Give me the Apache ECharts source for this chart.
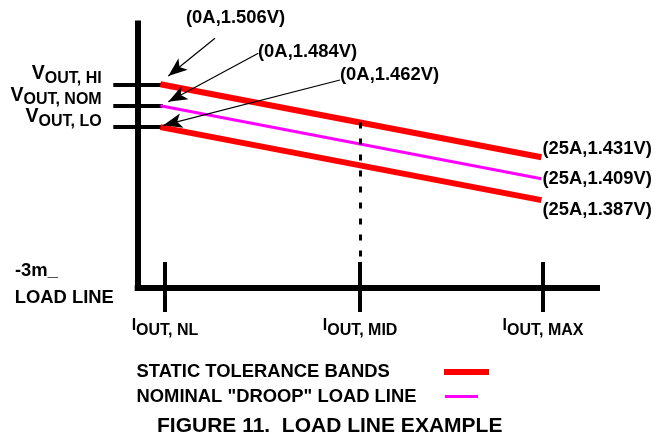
<!DOCTYPE html>
<html>
<head>
<meta charset="utf-8">
<script src="https://cdn.jsdelivr.net/npm/echarts@6/dist/echarts.min.js"></script>
<style>html,body{margin:0;padding:0;background:#fff}#c{width:656px;height:438px}</style>
</head>
<body>
<div id="c"></div>
<script>
// ---- data ----
const currentA = [0, 25];                 // load current (A)
const staticHigh = [1.506, 1.431];        // V_OUT,HI band (V)
const nominal = [1.484, 1.409];           // nominal droop line (V)
const staticLow = [1.462, 1.387];         // V_OUT,LO band (V)
const xTickValues = [0.3, 13.1, 25.1];
const xTickNames = ['NL', 'MID', 'MAX'];
const yTickValues = [1.506, 1.484, 1.462];
const yTickNames = ['HI', 'NOM', 'LO'];
const midCurrent = 13.1;
const legendNames = ['STATIC TOLERANCE BANDS', 'NOMINAL "DROOP" LOAD LINE'];
const titleText = 'FIGURE 11.  LOAD LINE EXAMPLE';
const sideNote = ['-3m_', 'LOAD LINE'];

// ---- chart ----
const FONT = '"Liberation Sans", Arial, Helvetica, sans-serif';
const X_MIN = -1.4895, X_MAX = 28.642;
const Y_MIN = 1.29675, Y_MAX = 1.56842;
const RED = '#ff0000', MAG = '#ff00ff';

const pairs = ys => currentA.map((x, i) => [x, ys[i]]);
const fmt = (a, v) => '(' + a + 'A,' + v.toFixed(3) + 'V)';
const topAt = x => staticHigh[0] + (staticHigh[1] - staticHigh[0]) * (x - currentA[0]) / (currentA[1] - currentA[0]);

const txt = {fontFamily: FONT, fontWeight: 'bold', color: '#000'};

function endLabel(dy) {
  return Object.assign({
    show: true, fontSize: 18.4, distance: 1, offset: [0, dy],
    formatter: p => fmt(p.value[0], p.value[1])
  }, txt);
}

// one y label per axis (each V_OUT level gets its own axis so no label is auto-hidden)
function yLabel(i) {
  return {
    show: true, customValues: [yTickValues[i]], margin: 36, verticalAlign: 'bottom', align: 'right',
    hideOverlap: false, showMinLabel: true, showMaxLabel: true,
    formatter: () => '{v|V}{s|OUT, ' + yTickNames[i] + '}',
    rich: {
      v: Object.assign({fontSize: 19.5, lineHeight: 20.25, verticalAlign: 'top'}, txt),
      s: Object.assign({fontSize: 16, lineHeight: 20.25, verticalAlign: 'top', padding: [6.45, 0, 0, 0]}, txt)
    }
  };
}

// annotation arrows (pixel layout): start -> tip
const arrowGeom = [[215, 38.3, 168.3, 76], [258.3, 53.3, 168.3, 101.7], [340, 80, 163.3, 125.3]];
const arrowData = arrowGeom.map(a => [{x: a[0], y: a[1]}, {x: a[2], y: a[3]}]);

const chart = echarts.init(document.getElementById('c'), null, {renderer: 'canvas'});
const baseX = {
  type: 'value', min: X_MIN, max: X_MAX, position: 'bottom',
  splitLine: {show: false}, axisPointer: {show: false}
};
const baseY = {
  type: 'value', min: Y_MIN, max: Y_MAX, position: 'left',
  splitLine: {show: false}, axisPointer: {show: false}
};

chart.setOption({
  animation: false,
  backgroundColor: '#fff',
  title: {
    text: titleText, left: 157, top: 415.3, padding: 0,
    textStyle: Object.assign({fontSize: 21}, txt)
  },
  grid: {left: 137.7, right: 59, top: 23.5, bottom: 150, containLabel: false, outerBoundsMode: 'none'},
  legend: [
    {
      data: [legendNames[0]], left: 136.5, top: 363, padding: 0, orient: 'vertical', align: 'right',
      icon: 'rect', itemWidth: 45, itemHeight: 6, selectedMode: false,
      formatter: n => '{t|' + n + '}',
      textStyle: {rich: {t: Object.assign({width: 302.5, align: 'left', lineHeight: 20, fontSize: 18.4}, txt)}}
    },
    {
      data: [legendNames[1]], left: 136.5, top: 387.5, padding: 0, orient: 'vertical', align: 'right',
      icon: 'rect', itemWidth: 33, itemHeight: 3, selectedMode: false,
      formatter: n => '{t|' + n + '}',
      textStyle: {rich: {t: Object.assign({width: 303.5, align: 'left', lineHeight: 20, fontSize: 18.4}, txt)}}
    }
  ],
  xAxis: [
    Object.assign({}, baseX, {
      axisLine: {show: true, onZero: false, lineStyle: {color: '#000', width: 6, cap: 'square'}},
      axisTick: {show: true, inside: false, length: 24, customValues: xTickValues, lineStyle: {color: '#000', width: 4}},
      axisLabel: {
        show: true, customValues: xTickValues, margin: 29.8, verticalAlign: 'top', align: 'center',
        hideOverlap: false, showMinLabel: true, showMaxLabel: true,
        formatter: v => {
          const i = xTickValues.findIndex(t => Math.abs(t - v) < 1e-6);
          return '{i|I}{s|OUT, ' + xTickNames[i] + '}';
        },
        rich: {
          i: Object.assign({fontSize: 16, lineHeight: 21.2, verticalAlign: 'top'}, txt),
          s: Object.assign({fontSize: 16, lineHeight: 21.2, verticalAlign: 'top', padding: [5.2, 0, 0, 0]}, txt)
        }
      }
    }),
    Object.assign({}, baseX, {
      axisLine: {show: false, onZero: false},
      axisTick: {show: true, inside: true, length: 26, customValues: xTickValues, lineStyle: {color: '#000', width: 4}},
      axisLabel: {show: false}
    })
  ],
  yAxis: [
    Object.assign({}, baseY, {
      axisLine: {show: true, onZero: false, lineStyle: {color: '#000', width: 6, cap: 'square'}},
      axisTick: {show: true, inside: false, length: 24.4, customValues: yTickValues, lineStyle: {color: '#000', width: 4}},
      axisLabel: yLabel(0)
    }),
    Object.assign({}, baseY, {
      axisLine: {show: false, onZero: false},
      axisTick: {show: true, inside: true, length: 25, customValues: yTickValues, lineStyle: {color: '#000', width: 4}},
      axisLabel: yLabel(1)
    }),
    Object.assign({}, baseY, {
      axisLine: {show: false, onZero: false},
      axisTick: {show: false},
      axisLabel: yLabel(2)
    })
  ],
  series: [
    {
      type: 'line', name: legendNames[0], data: pairs(staticHigh), symbol: 'none', silent: true,
      color: RED, itemStyle: {color: RED}, lineStyle: {color: RED, width: 6, cap: 'butt'},
      endLabel: endLabel(-8.1),
      markLine: {
        silent: true, symbol: ['none', 'none'], label: {show: false},
        lineStyle: {color: '#000', width: 3, type: [6, 10]},
        data: [[{coord: [midCurrent, topAt(midCurrent)]}, {coord: [midCurrent, Y_MIN]}]]
      }
    },
    {
      type: 'line', name: legendNames[1], data: pairs(nominal), symbol: 'none', silent: true,
      color: MAG, itemStyle: {color: MAG}, lineStyle: {color: MAG, width: 3, cap: 'butt'},
      endLabel: endLabel(0.5),
      markLine: {
        silent: true, symbol: ['none', 'arrow'], symbolSize: [11, 19], label: {show: false},
        lineStyle: {color: '#000', width: 1.2, type: 'solid'},
        data: arrowData
      }
    },
    {
      type: 'line', name: legendNames[0], data: pairs(staticLow), symbol: 'none', silent: true,
      color: RED, itemStyle: {color: RED}, lineStyle: {color: RED, width: 6, cap: 'butt'},
      endLabel: endLabel(9.4)
    }
  ],
  graphic: [
    {type: 'text', x: 186, y: 18.3, style: {text: fmt(currentA[0], staticHigh[0]), font: 'bold 18.4px ' + FONT, fill: '#000', verticalAlign: 'middle'}},
    {type: 'text', x: 258, y: 51.7, style: {text: fmt(currentA[0], nominal[0]), font: 'bold 18.4px ' + FONT, fill: '#000', verticalAlign: 'middle'}},
    {type: 'text', x: 340, y: 75.3, style: {text: fmt(currentA[0], staticLow[0]), font: 'bold 18.4px ' + FONT, fill: '#000', verticalAlign: 'middle'}},
    {type: 'text', x: 15, y: 270.8, style: {text: sideNote[0], font: 'bold 18.4px ' + FONT, fill: '#000', verticalAlign: 'middle'}},
    {type: 'text', x: 14.7, y: 297.5, style: {text: sideNote[1], font: 'bold 18.4px ' + FONT, fill: '#000', verticalAlign: 'middle'}}
  ]
});
</script>
</body>
</html>
